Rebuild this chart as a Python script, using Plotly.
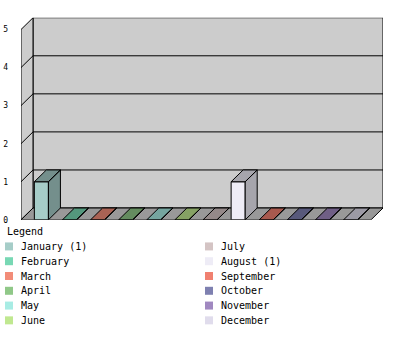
import plotly.graph_objects as go

# ---- data ----
months = ["January", "February", "March", "April", "May", "June",
          "July", "August", "September", "October", "November", "December"]
values = [1, 0, 0, 0, 0, 0, 0, 1, 0, 0, 0, 0]
colors = ["#A6CDC8", "#78D8B4", "#F28C78", "#90C888", "#A8ECE4", "#C0E890",
          "#D4C4C4", "#EEECF6", "#F08070", "#7E80B0", "#A088C0", "#E0DCEC"]
y_ticks = [0, 1, 2, 3, 4, 5]

# ---- geometry (pseudo 3D) ----
W, H = 400, 350
L, R = -0.725, 11.725     # front plane x extent
DX, DY = 0.427, 0.31      # depth offset
YMAX = 5
BW = 0.5                  # bar width
FONT = "DejaVu Sans Mono"


def darker(hexcol, f=0.7):
    h = hexcol.lstrip("#")
    r, g, b = (int(h[i:i + 2], 16) for i in (0, 2, 4))
    return "#%02X%02X%02X" % (int(r * f), int(g * f), int(b * f))


def path(pts):
    return "M " + " L ".join(f"{x},{y}" for x, y in pts) + " Z"


fig = go.Figure()

shapes = []
# back wall
shapes.append(dict(type="rect", xref="x", yref="y", x0=L + DX, x1=R + DX, y0=DY, y1=YMAX + DY,
                   fillcolor="#CCCCCC", line=dict(color="black", width=1), layer="below"))
# left wall
shapes.append(dict(type="path", xref="x", yref="y",
                   path=path([(L, 0), (L, YMAX), (L + DX, YMAX + DY), (L + DX, DY)]),
                   fillcolor="#CCCCCC", line=dict(color="black", width=1), layer="below"))
# grid lines
for k in y_ticks[1:-1]:
    shapes.append(dict(type="path", xref="x", yref="y",
                       path=f"M {L},{k} L {L + DX},{k + DY} L {R + DX},{k + DY}",
                       line=dict(color="black", width=1), layer="below"))
# floor
shapes.append(dict(type="path", xref="x", yref="y",
                   path=path([(L, 0), (R, 0), (R + DX, DY), (L + DX, DY)]),
                   fillcolor="#999999", line=dict(color="black", width=1), layer="below"))

idx = list(range(len(months)))

# side + top faces
for i, (v, c) in enumerate(zip(values, colors)):
    xl, xr = i - BW / 2, i + BW / 2
    xs = [xr, xr + DX, xr + DX, xr, xr, None,
          xl, xr, xr + DX, xl + DX, xl]
    ys = [0, DY, v + DY, v, 0, None,
          v, v, v + DY, v + DY, v]
    fig.add_trace(go.Scatter(x=xs, y=ys, mode="lines", fill="toself",
                             fillcolor=darker(c), line=dict(color="black", width=1),
                             showlegend=False, hoverinfo="skip"))

# front faces
fig.add_trace(go.Bar(x=idx, y=values, width=BW,
                     marker=dict(color=colors, line=dict(color="black", width=1)),
                     showlegend=False, hoverinfo="skip"))

# ---- legend (drawn on a pixel-scaled overlay axis) ----
lx = [9 + 200 * (i // 6) for i in idx]
ly = [250 + 15 * (i % 6) for i in idx]
fig.add_trace(go.Scatter(x=lx, y=ly, xaxis="x2", yaxis="y2", mode="markers",
                         marker=dict(symbol="square", size=8, color=colors, line=dict(width=0)),
                         showlegend=False, hoverinfo="skip"))

labels = [f"{m} ({v})" if v else m for m, v in zip(months, values)]
annotations = [dict(xref="x2", yref="y2", x=5, y=235, text="Legend", showarrow=False,
                    xanchor="left", yanchor="middle", font=dict(family=FONT, size=10, color="black"))]
for x, y, t in zip(lx, ly, labels):
    annotations.append(dict(xref="x2", yref="y2", x=x + 10, y=y, text=t, showarrow=False,
                            xanchor="left", yanchor="middle",
                            font=dict(family=FONT, size=10, color="black")))

fig.update_layout(
    width=W, height=H,
    margin=dict(l=0, r=0, t=0, b=0),
    paper_bgcolor="white", plot_bgcolor="rgba(0,0,0,0)",
    showlegend=False,
    shapes=shapes, annotations=annotations,
    bargap=0,
    xaxis=dict(domain=[21 / W, 383 / W], range=[L, R + DX], visible=False, fixedrange=True),
    yaxis=dict(domain=[(H - 223) / H, (H - 18) / H], range=[0, YMAX + DY], tickvals=y_ticks,
               showgrid=False, zeroline=False, showline=False, ticks="",
               ticklabelstandoff=12, tickfont=dict(family=FONT, size=8, color="black"),
               fixedrange=True),
    xaxis2=dict(domain=[0, 1], range=[0, W], visible=False, anchor="y2", fixedrange=True),
    yaxis2=dict(domain=[0, 1], range=[H, 0], visible=False, anchor="x2", fixedrange=True),
)

fig.write_html("out.html", config={"displayModeBar": False, "staticPlot": True})
